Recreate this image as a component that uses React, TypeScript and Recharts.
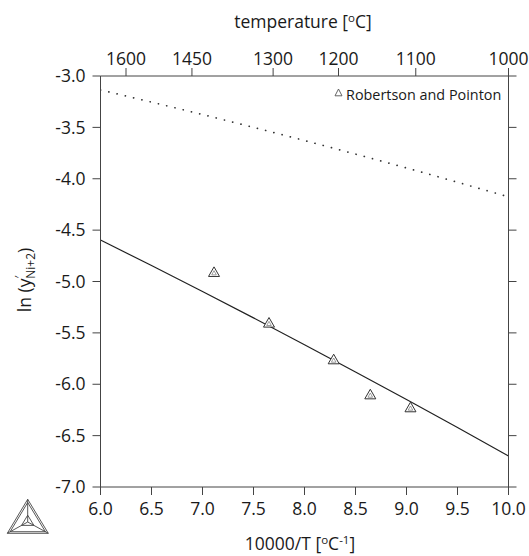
import React from 'react';
import { ComposedChart, Line, Scatter, XAxis, YAxis, Customized } from 'recharts';

// bottom axis: 10000/T [oC^-1]
const xTicks = [6.0, 6.5, 7.0, 7.5, 8.0, 8.5, 9.0, 9.5, 10.0];
// left axis: ln(y'Ni+2)
const yTicks = [-7.0, -6.5, -6.0, -5.5, -5.0, -4.5, -4.0, -3.5, -3.0];
// top axis: temperature [oC]
const tempTicksC = [1600, 1450, 1300, 1200, 1100, 1000];

// calculated curves
const calcX = [6.0, 6.5, 7.0, 7.5, 8.0, 8.5, 9.0, 9.5, 10.0];
const calcSolid = [-4.596, -4.845, -5.098, -5.354, -5.615, -5.88, -6.149, -6.421, -6.698];
const calcDotted = [-3.136, -3.254, -3.375, -3.5, -3.628, -3.76, -3.895, -4.034, -4.176];

// Robertson and Pointon
const expX = [7.113, 7.652, 8.286, 8.645, 9.039];
const expY = [-4.914, -5.407, -5.764, -6.105, -6.231];

const solidData = calcX.map((x, i) => ({ x, y: calcSolid[i] }));
const dottedData = calcX.map((x, i) => ({ x, y: calcDotted[i] }));
const expData = expX.map((x, i) => ({ x, y: expY[i] }));

const FONT = '"Open Sans", sans-serif';
const AXIS = '#444';
const TEXT = '#1a1a1a';
const TICK_FS = 17.5;

const TriangleShape = (props: any) => {
  const { cx, cy } = props;
  if (cx == null || cy == null) return null;
  const o = `M${cx},${cy - 5.8} L${cx - 5.5},${cy + 3.8} L${cx + 5.5},${cy + 3.8} Z`;
  const i = `M${cx},${cy - 2} L${cx - 2.3},${cy + 2.2} L${cx + 2.3},${cy + 2.2} Z`;
  return (
    <g>
      <path d={o} fill="#fff" stroke="#333" strokeWidth={1} />
      <path d={i} fill="none" stroke="#777" strokeWidth={0.7} />
    </g>
  );
};

const Overlay = () => {
  // logo geometry
  const A = [27.7, 499.3];
  const B = [7.3, 533.3];
  const C = [48.3, 533.3];
  const G = [27.7, 522];
  const shrink = (p: number[], k: number) => [G[0] + (p[0] - G[0]) * k, G[1] + (p[1] - G[1]) * k];
  const tri = (k: number) => {
    const a = shrink(A, k), b = shrink(B, k), c = shrink(C, k);
    return `M${a[0]},${a[1]} L${b[0]},${b[1]} L${c[0]},${c[1]} Z`;
  };
  return (
    <g fontFamily={FONT}>
      {/* top title */}
      <text x={303} y={28} textAnchor="middle" fontSize={17.5} fill={TEXT}>
        temperature [<tspan fontSize={11.5} dy={-6.5}>o</tspan><tspan dy={6.5}>C]</tspan>
      </text>
      {/* bottom title */}
      <text x={300} y={550} textAnchor="middle" fontSize={17.5} fill={TEXT}>
        10000/T [<tspan fontSize={11.5} dy={-6.5}>o</tspan><tspan dy={6.5}>C</tspan>
        <tspan fontSize={11.5} dy={-6.5}>-1</tspan><tspan dy={6.5}>]</tspan>
      </text>
      {/* left title */}
      <text
        transform="translate(31,280) rotate(-90)"
        x={0}
        y={0}
        textAnchor="middle"
        fontSize={17.5}
        fill={TEXT}
      >
        ln (y<tspan fontSize={12} dy={-7}>′</tspan>
        <tspan fontSize={12} dy={11} dx={-3}>Ni+2</tspan>
        <tspan dy={-4}>)</tspan>
      </text>
      {/* legend */}
      <path d="M338.5,89 L335,95.8 L342,95.8 Z" fill="#fff" stroke="#555" strokeWidth={0.9} />
      <text x={346} y={100} fontSize={14.4} fill={TEXT}>
        Robertson and Pointon
      </text>
      {/* logo */}
      <g fill="none" stroke="#444" strokeWidth={0.9}>
        <path d={tri(1)} />
        <path d={tri(0.86)} />
        <path d={tri(0.3)} />
        <line x1={G[0]} y1={G[1]} x2={A[0]} y2={A[1]} />
        <line x1={G[0]} y1={G[1]} x2={B[0]} y2={B[1]} />
        <line x1={G[0]} y1={G[1]} x2={C[0]} y2={C[1]} />
      </g>
    </g>
  );
};

export default function App() {
  return (
    <div style={{ position: 'absolute', left: 0, top: 0, background: '#fff' }}>
      <ComposedChart
        width={529}
        height={556}
        margin={{ top: 0, right: 0, bottom: 0, left: 0 }}
      >
        <XAxis
          xAxisId="bottom"
          dataKey="x"
          type="number"
          orientation="bottom"
          domain={[6, 10]}
          ticks={xTicks}
          allowDataOverflow
          height={69}
          tickSize={8}
          tickMargin={8}
          tickFormatter={(v: number) => v.toFixed(1)}
          stroke={AXIS}
          tick={{ fill: TEXT, fontSize: TICK_FS, fontFamily: FONT }}
          interval={0}
        />
        <XAxis
          xAxisId="top"
          dataKey="x"
          type="number"
          orientation="top"
          domain={[6, 10]}
          ticks={tempTicksC.map((t) => 10000 / t)}
          allowDataOverflow
          height={76}
          tickSize={8}
          tickMargin={3}
          tickFormatter={(v: number) => String(Math.round(10000 / v))}
          stroke={AXIS}
          tick={{ fill: TEXT, fontSize: TICK_FS, fontFamily: FONT }}
          interval={0}
        />
        <YAxis
          yAxisId="left"
          dataKey="y"
          type="number"
          orientation="left"
          domain={[-7, -3]}
          ticks={yTicks}
          allowDataOverflow
          width={100.5}
          tickSize={8}
          tickMargin={7}
          tickFormatter={(v: number) => v.toFixed(1)}
          stroke={AXIS}
          tick={{ fill: TEXT, fontSize: TICK_FS, fontFamily: FONT }}
          interval={0}
        />
        <YAxis
          yAxisId="right"
          dataKey="y"
          type="number"
          orientation="right"
          domain={[-7, -3]}
          ticks={yTicks}
          allowDataOverflow
          width={20.5}
          tickSize={8}
          tickFormatter={() => ''}
          stroke={AXIS}
          interval={0}
        />
        <Line
          xAxisId="bottom"
          yAxisId="left"
          data={solidData}
          dataKey="y"
          type="monotone"
          stroke="#222"
          strokeWidth={1.2}
          dot={false}
          isAnimationActive={false}
        />
        <Line
          xAxisId="top"
          yAxisId="right"
          data={dottedData}
          dataKey="y"
          type="monotone"
          stroke="#333"
          strokeWidth={1.7}
          strokeDasharray="0.1 8.4"
          strokeLinecap="round"
          dot={false}
          isAnimationActive={false}
        />
        <Scatter
          xAxisId="bottom"
          yAxisId="left"
          data={expData}
          dataKey="y"
          shape={TriangleShape}
          isAnimationActive={false}
        />
        <Customized component={Overlay} />
      </ComposedChart>
    </div>
  );
}
